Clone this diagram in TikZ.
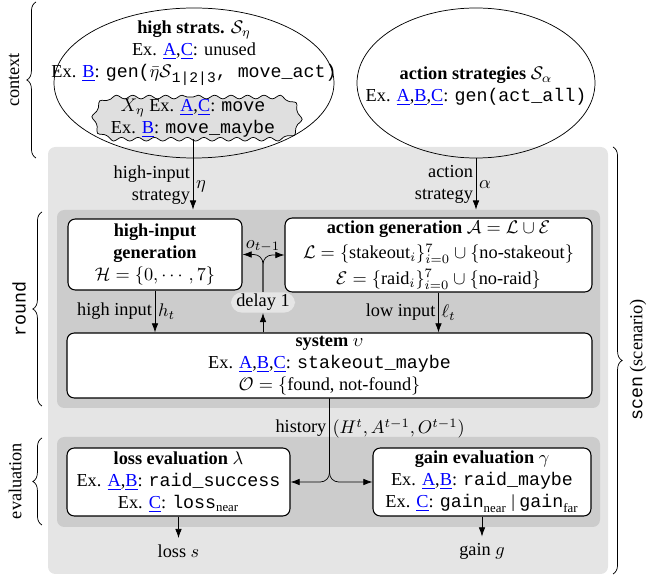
\documentclass[tikz,border=0pt]{standalone}
\usepackage{fontspec}
\setmainfont{Liberation Serif}
\setmonofont{Liberation Mono}
\usepackage{amsmath}
\usetikzlibrary{shapes.geometric,shapes.misc,decorations.pathmorphing,decorations.pathreplacing,arrows.meta}

\newcommand{\exref}[1]{\textcolor{blue}{\underline{#1}}}
\newcommand{\pxl}{0.5467pt}

\begin{document}
\begin{tikzpicture}[x=0.5467pt,y=-0.5467pt,
  region/.style={fill=gray!20,rounded corners=4pt,inner sep=0pt},
  subregion/.style={fill=gray!40,rounded corners=4pt,inner sep=0pt},
  box/.style={draw,fill=white,rounded corners=4pt,align=center,inner sep=1pt,line width=.6pt},
  strat/.style={draw,ellipse,inner sep=0pt},
  arr/.style={-{Latex[length=5pt,width=3.6pt]}},
  lbl/.style={align=right,anchor=east,inner sep=1.5pt},
  sym/.style={anchor=west,inner sep=1.5pt},
  brc/.style={decorate,decoration={brace,amplitude=5pt}}]
  \useasboundingbox (0,0) rectangle (653,577);

  % scenario background with round / evaluation bands
  \node[region,minimum width=560*\pxl,minimum height=427*\pxl] (scen) at (328,360.5) {};
  \node[subregion,minimum width=543*\pxl,minimum height=198*\pxl] (roundbg) at (328.5,309) {};
  \node[subregion,minimum width=543*\pxl,minimum height=90*\pxl] (evalbg) at (328.5,482) {};

  \node[strat,minimum width=280*\pxl,minimum height=150*\pxl] (hstrat) at (194,83) {};
  \node[align=center] (htext) at (194,53) {\textbf{high strats.} $\mathcal{S}_\eta$\\
    Ex. \exref{A},\exref{C}: unused\\
    Ex. \exref{B}: \texttt{gen(}$\bar{\eta}\mathcal{S}$\raisebox{-2.5pt}{\texttt{\footnotesize 1|2|3}}\texttt{, move\_act)}};
  \node[rounded rectangle,draw,fill=gray!25,align=center,decorate,
    decoration={snake,segment length=9pt,amplitude=1pt},
    minimum width=210*\pxl,minimum height=40*\pxl,inner sep=1pt] (xeta) at (193,118)
    {$X_\eta$ Ex. \exref{A},\exref{C}: \texttt{move}\\ Ex. \exref{B}: \texttt{move\_maybe}};
  \node[strat,minimum width=238*\pxl,minimum height=150*\pxl] (astrat) at (476,83) {};
  \node[align=center] (atext) at (476,86)
    {\textbf{action strategies} $\mathcal{S}_\alpha$\\ Ex. \exref{A},\exref{B},\exref{C}: \texttt{gen(act\_all)}};

  \node[box,minimum width=174*\pxl,minimum height=71*\pxl] (hig) at (155,254.5)
    {\textbf{high-input}\\ \textbf{generation}\\ $\mathcal{H} = \{0,\cdots,7\}$};
  \node[box,minimum width=307*\pxl,minimum height=74*\pxl] (act) at (438.5,255)
    {\textbf{action generation} $\mathcal{A} = \mathcal{L}\cup\mathcal{E}$\\[2pt]
     $\mathcal{L} = \{\text{stakeout}_i\}_{i=0}^{7} \cup \{\text{no-stakeout}\}$\\[2pt]
     $\mathcal{E} = \{\text{raid}_i\}_{i=0}^{7} \cup \{\text{no-raid}\}$};
  \node[fill=gray!20,rounded corners=6pt,minimum width=64*\pxl,minimum height=20*\pxl,inner sep=1pt] (delay) at (263,302.5) {delay 1};
  \node[box,minimum width=525*\pxl,minimum height=65*\pxl] (sys) at (329.5,365.5)
    {\textbf{system} $\upsilon$\\ Ex. \exref{A},\exref{B},\exref{C}: \texttt{stakeout\_maybe}\\
     $\mathcal{O} = \{$found, not-found$\}$};
  \node[box,minimum width=223*\pxl,minimum height=68*\pxl] (loss) at (178.5,482)
    {\textbf{loss evaluation} $\lambda$\\ Ex. \exref{A},\exref{B}: \texttt{raid\_success}\\
     Ex. \exref{C}: $\texttt{loss}_\text{near}$};
  \node[box,minimum width=218*\pxl,minimum height=68*\pxl] (gain) at (482,482)
    {\textbf{gain evaluation} $\gamma$\\ Ex. \exref{A},\exref{B}: \texttt{raid\_maybe}\\
     Ex. \exref{C}: $\texttt{gain}_\text{near}$ | $\texttt{gain}_\text{far}$};
  \node (lossout) at (178.5,551) {loss $s$};
  \node (gainout) at (482,551) {gain $g$};

  \draw[arr] (xeta.south) -- (xeta.south |- roundbg.north)
    node[lbl,pos=0.65]{high-input\\strategy} node[sym,pos=0.67]{$\eta$};
  \draw[arr] (astrat.south) -- (astrat.south |- roundbg.north)
    node[lbl,pos=0.5]{action\\strategy} node[sym,pos=0.52]{$\alpha$};
  \draw[arr,rounded corners=5pt] (delay.north) |- node[above,inner sep=1pt]{$o_{t-1}$} (hig.east);
  \draw[arr,rounded corners=5pt] (delay.north) |- (act.west);
  \draw[arr] (delay.south |- sys.north) -- (delay.south);
  \draw[arr] (hig.south) -- (hig.south |- sys.north)
    node[lbl,pos=0.5]{high input} node[sym,pos=0.5]{$h_t$};
  \draw[arr] (act.south) -- (act.south |- sys.north)
    node[lbl,pos=0.5]{low input} node[sym,pos=0.5]{$\ell_t$};
  \draw[arr,rounded corners=5pt] (sys.south) |- node[lbl,pos=0.18]{history}
    node[sym,pos=0.18]{$(H^t, A^{t-1}, O^{t-1})$} (loss.east);
  \draw[arr,rounded corners=5pt] (sys.south) |- (gain.west);
  \draw[arr] (loss.south) -- (lossout.north);
  \draw[arr] (gain.south) -- (gainout.north);

  % braces
  \draw[brc] (36,158) -- (36,2);
  \node[rotate=90] (ctxlbl) at (14,80) {context};
  \draw[brc] (42,406) -- (42,212);
  \node[rotate=90] (rndlbl) at (19,309) {\texttt{round}};
  \draw[brc] (42,525) -- (42,438);
  \node[rotate=90] (evllbl) at (15,481) {evaluation};
  \draw[brc] (613,147) -- (613,574);
  \node[rotate=90] (scnlbl) at (638,360) {\texttt{scen} (scenario)};
\end{tikzpicture}
\end{document}
